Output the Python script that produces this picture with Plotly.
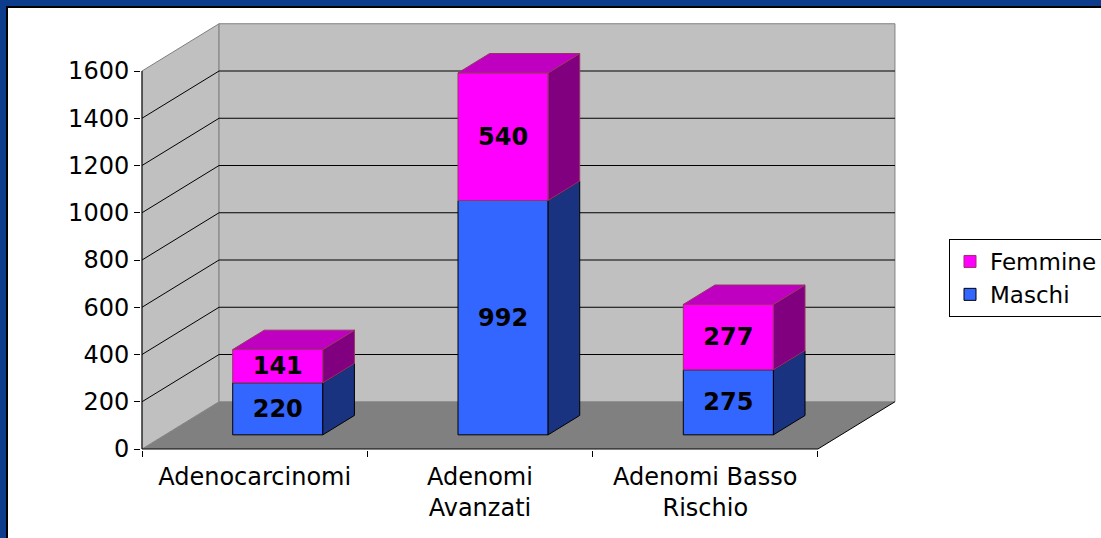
import plotly.graph_objects as go

# ---------------- data ----------------
categories = ["Adenocarcinomi", "Adenomi<br>Avanzati", "Adenomi Basso<br>Rischio"]
maschi = [220, 992, 275]
femmine = [141, 540, 277]
y_tick_values = [0, 200, 400, 600, 800, 1000, 1200, 1400, 1600]
y_tick_labels = ["0", "200", "400", "600", "800", "1000", "1200", "1400", "1600"]

# ---------------- 3D geometry (in axis units) ----------------
DEPTH_X = 0.342      # horizontal shift of full depth, in category units
DEPTH_Y = 200.0      # vertical shift of full depth, in value units
BAR_FRONT = 0.30     # depth fraction where bar front faces sit
BAR_DEPTH = 0.41     # depth fraction of bars
BAR_WIDTH = 0.40
Y_MAX = y_tick_values[-1]
X_MIN, X_MAX = -0.5, len(categories) - 0.5

FONT = "DejaVu Sans"
WALL = "#C0C0C0"
FLOOR = "#808080"
BLUE, BLUE_SIDE = "#3366FF", "#1A3380"
PINK, PINK_TOP, PINK_SIDE, PINK_EDGE = "#FF00FF", "#C000C0", "#800080", "#993366"
FRAME = "#0E3C8C"

W, H = 1101, 538
PPX = 225.3          # px per category
PPY = 0.23625        # px per value unit
ML, MR, MT, MB = 141, 203, 21, 88
PW, PH = W - ML - MR, H - MT - MB
x_range = [X_MIN - 1 / PPX, X_MIN - 1 / PPX + PW / PPX]
y_range = [-1 / PPY, -1 / PPY + PH / PPY]


def P(x, y, d):
    return x + DEPTH_X * d, y + DEPTH_Y * d


def path(points):
    return "M " + " L ".join(f"{x},{y}" for x, y in points) + " Z"


shapes = []
# floor
shapes.append(dict(type="path", layer="below", xref="x", yref="y",
                   path=path([P(X_MIN, 0, 0), P(X_MAX, 0, 0), P(X_MAX, 0, 1), P(X_MIN, 0, 1)]),
                   fillcolor=FLOOR, line=dict(width=0)))
# left wall
shapes.append(dict(type="path", layer="below", xref="x", yref="y",
                   path=path([P(X_MIN, 0, 0), P(X_MIN, Y_MAX, 0), P(X_MIN, Y_MAX, 1), P(X_MIN, 0, 1)]),
                   fillcolor=WALL, line=dict(color="#808080", width=1)))
# back wall
shapes.append(dict(type="path", layer="below", xref="x", yref="y",
                   path=path([P(X_MIN, 0, 1), P(X_MAX, 0, 1), P(X_MAX, Y_MAX, 1), P(X_MIN, Y_MAX, 1)]),
                   fillcolor=WALL, line=dict(color="#808080", width=1)))
# gridlines
for v in y_tick_values[1:-1]:
    x0, y0 = P(X_MIN, v, 1)
    x1, y1 = P(X_MAX, v, 1)
    shapes.append(dict(type="line", layer="below", xref="x", yref="y",
                       x0=x0, y0=y0, x1=x1, y1=y1, line=dict(color="black", width=1)))
    x0, y0 = P(X_MIN, v, 0)
    shapes.append(dict(type="line", layer="below", xref="x", yref="y",
                       x0=x0, y0=y0, x1=X_MIN + DEPTH_X, y1=v + DEPTH_Y, line=dict(color="black", width=1)))
# floor right edge, front edge, y axis line
for (a, b) in [(P(X_MAX, 0, 0), P(X_MAX, 0, 1)), (P(X_MIN, 0, 0), P(X_MAX, 0, 0)),
               (P(X_MIN, 0, 0), P(X_MIN, Y_MAX, 0))]:
    shapes.append(dict(type="line", layer="below", xref="x", yref="y",
                       x0=a[0], y0=a[1], x1=b[0], y1=b[1], line=dict(color="black", width=1)))

# frame (paper coords)
def px_x(p):
    return (p - ML) / PW


def px_y(p):
    return (H - MB - p) / PH


shapes += [
    dict(type="rect", xref="paper", yref="paper", layer="above",
         x0=px_x(0), x1=px_x(6), y0=px_y(H), y1=px_y(0), fillcolor=FRAME, line=dict(width=0)),
    dict(type="rect", xref="paper", yref="paper", layer="above",
         x0=px_x(0), x1=px_x(W), y0=px_y(6), y1=px_y(0), fillcolor=FRAME, line=dict(width=0)),
    dict(type="rect", xref="paper", yref="paper", layer="above",
         x0=px_x(6), x1=px_x(8), y0=px_y(H), y1=px_y(6), fillcolor="black", line=dict(width=0)),
    dict(type="rect", xref="paper", yref="paper", layer="above",
         x0=px_x(6), x1=px_x(W), y0=px_y(8), y1=px_y(6), fillcolor="black", line=dict(width=0)),
]

fig = go.Figure()

xs = [i + DEPTH_X * BAR_FRONT for i in range(len(categories))]
base_m = [DEPTH_Y * BAR_FRONT] * len(categories)
base_f = [b + m for b, m in zip(base_m, maschi)]

label_font = dict(family=FONT, size=24, color="black", weight="bold")
fig.add_trace(go.Bar(name="Maschi", x=xs, y=maschi, base=base_m, width=BAR_WIDTH,
                     marker=dict(color=BLUE, line=dict(color="black", width=1)),
                     text=[str(v) for v in maschi], textposition="inside",
                     insidetextanchor="middle", constraintext="none",
                     textfont=label_font, hoverinfo="skip"))
fig.add_trace(go.Bar(name="Femmine", x=xs, y=femmine, base=base_f, width=BAR_WIDTH,
                     marker=dict(color=PINK, line=dict(color=PINK_EDGE, width=1)),
                     text=[str(v) for v in femmine], textposition="inside",
                     insidetextanchor="middle", constraintext="none",
                     textfont=label_font, hoverinfo="skip"))

dx, dy = DEPTH_X * BAR_DEPTH, DEPTH_Y * BAR_DEPTH
for i, x in enumerate(xs):
    xl, xr = x - BAR_WIDTH / 2, x + BAR_WIDTH / 2
    y0, y1, y2 = base_m[i], base_f[i], base_f[i] + femmine[i]
    # blue side
    fig.add_trace(go.Scatter(x=[xr, xr + dx, xr + dx, xr, xr], y=[y0, y0 + dy, y1 + dy, y1, y0],
                             fill="toself", fillcolor=BLUE_SIDE, mode="lines",
                             line=dict(color="black", width=1), showlegend=False, hoverinfo="skip"))
    # pink side
    fig.add_trace(go.Scatter(x=[xr, xr + dx, xr + dx, xr, xr], y=[y1, y1 + dy, y2 + dy, y2, y1],
                             fill="toself", fillcolor=PINK_SIDE, mode="lines",
                             line=dict(color=PINK_EDGE, width=1), showlegend=False, hoverinfo="skip"))
    # pink top
    fig.add_trace(go.Scatter(x=[xl, xr, xr + dx, xl + dx, xl], y=[y2, y2, y2 + dy, y2 + dy, y2],
                             fill="toself", fillcolor=PINK_TOP, mode="lines",
                             line=dict(color=PINK_EDGE, width=1), showlegend=False, hoverinfo="skip"))

fig.update_layout(
    width=W, height=H,
    margin=dict(l=ML, r=MR, t=MT, b=MB, autoexpand=False),
    paper_bgcolor="white", plot_bgcolor="white",
    barmode="overlay",
    font=dict(family=FONT, size=24, color="black"),
    shapes=shapes,
    showlegend=True,
    legend=dict(x=px_x(949), y=px_y(239), xanchor="left", yanchor="top",
                traceorder="reversed", bgcolor="white", bordercolor="black", borderwidth=1,
                font=dict(family=FONT, size=23, color="black"), tracegroupgap=0),
    xaxis=dict(range=x_range, showgrid=False, zeroline=False, showline=False,
               tickmode="array", tickvals=list(range(len(categories))), ticktext=categories,
               ticks="", ticklabelstandoff=10, tickfont=dict(family=FONT, size=24, color="black"),
               minor=dict(tickmode="linear", tick0=X_MIN, dtick=1, ticks="outside",
                          ticklen=6, tickcolor="black", tickwidth=1, showgrid=False)),
    yaxis=dict(range=y_range, showgrid=False, zeroline=False, showline=False,
               tickmode="array", tickvals=y_tick_values, ticktext=y_tick_labels,
               ticks="outside", ticklen=6, tickcolor="black",
               tickfont=dict(family=FONT, size=24, color="black")),
)

fig.write_html("out.html", config={"displayModeBar": False},
               post_script="document.body.style.margin='0';document.body.style.overflow='hidden';")
